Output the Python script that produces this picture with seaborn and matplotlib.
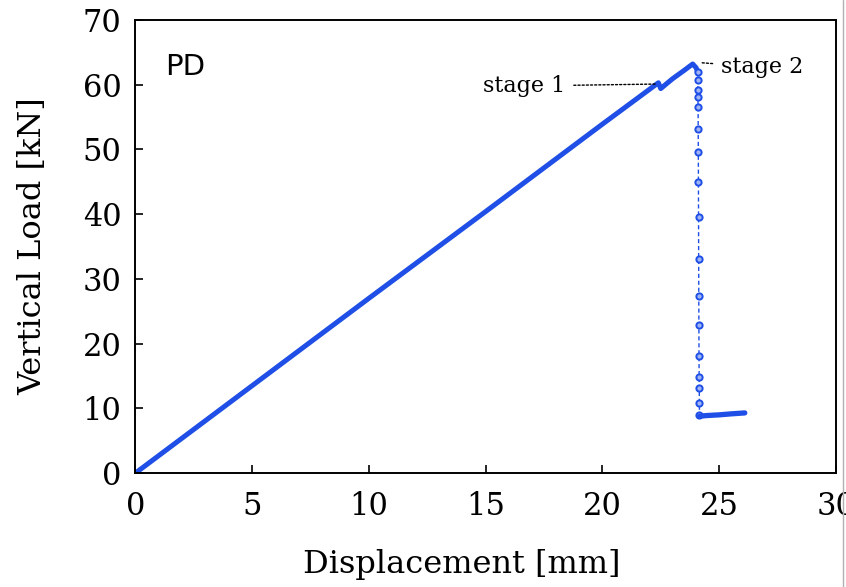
import matplotlib
matplotlib.use("Agg")
import matplotlib.pyplot as plt
from matplotlib.lines import Line2D
import seaborn as sns
import pandas as pd

# loading branch (dense, elastic) + stage 1 notch + stage 2 peak
load_disp = [0.0, 5.0, 10.0, 15.0, 20.0, 22.40, 22.50, 23.00, 23.50, 23.87, 24.02, 24.08]
load_val = [0.0, 13.5, 27.0, 40.4, 53.9, 60.3, 59.4, 60.9, 62.2, 63.2, 62.6, 61.9]

# sudden drop (sparse points, dashed)
drop_disp = [24.080, 24.085, 24.090, 24.095, 24.100, 24.105, 24.110, 24.115, 24.120,
             24.125, 24.130, 24.135, 24.140, 24.145, 24.150, 24.155, 24.160]
drop_val = [61.9, 60.7, 59.2, 58.1, 56.5, 53.1, 49.6, 44.9, 39.5, 33.0, 27.4, 22.9,
            18.1, 14.9, 13.2, 10.8, 9.0]

# residual branch
res_disp = [24.16, 24.5, 25.0, 25.5, 26.1]
res_val = [8.8, 8.9, 9.0, 9.15, 9.3]

blue = "#1f4fe6"

sns.set_theme(style="white")
plt.rcParams["font.family"] = ["DejaVu Serif"]

fig = plt.figure(figsize=(8.46, 5.87), dpi=100)
ax = fig.add_axes([0.160, 0.194, 0.828, 0.772])

df_load = pd.DataFrame({"d": load_disp, "f": load_val})
df_drop = pd.DataFrame({"d": drop_disp, "f": drop_val})
df_res = pd.DataFrame({"d": res_disp, "f": res_val})

sns.lineplot(data=df_load, x="d", y="f", ax=ax, color=blue, lw=3.6, sort=False,
             estimator=None)
sns.lineplot(data=df_drop, x="d", y="f", ax=ax, color=blue, lw=1.0, ls=(0, (3, 2)),
             marker="o", markersize=4.5, markerfacecolor="#9fb4f5", markeredgecolor=blue,
             markeredgewidth=1.4, sort=False, estimator=None)
sns.lineplot(data=df_res, x="d", y="f", ax=ax, color=blue, lw=3.8, sort=False,
             estimator=None)

ax.set_xlim(0, 30)
ax.set_ylim(0, 70)
ax.set_xticks([0, 5, 10, 15, 20, 25, 30])
ax.set_yticks([0, 10, 20, 30, 40, 50, 60, 70])
ax.tick_params(direction="in", length=6, width=1.2, labelsize=22,
               bottom=True, left=True, top=False, right=False, colors="black")
ax.tick_params(axis="x", pad=13)
ax.tick_params(axis="y", pad=10)
for s in ax.spines.values():
    s.set_color("black")
    s.set_linewidth(1.4)

ax.set_xlabel("Displacement [mm]", fontsize=23, color="black")
ax.set_ylabel("Vertical Load [kN]", fontsize=23, color="black")
ax.xaxis.set_label_coords(0.466, -0.168)
ax.yaxis.set_label_coords(-0.124, 0.5)

ax.text(0.043, 0.896, "PD", transform=ax.transAxes, fontsize=21,
        family=["DejaVu Sans"], va="center", ha="left", color="black")

ax.annotate("stage 1", xy=(22.3, 60.1), xytext=(18.4, 59.8), fontsize=16,
            ha="right", va="center", color="black",
            arrowprops=dict(arrowstyle="-", ls=(0, (1.5, 1.5)), lw=1.0, color="black",
                            shrinkA=4, shrinkB=0))
ax.annotate("stage 2", xy=(24.2, 63.4), xytext=(25.1, 62.7), fontsize=16,
            ha="left", va="center", color="black",
            arrowprops=dict(arrowstyle="-", ls=(0, (1.5, 1.5)), lw=1.0, color="black",
                            shrinkA=4, shrinkB=0))

fig.add_artist(Line2D([843 / 846, 843 / 846], [0, 1], transform=fig.transFigure,
                      color="#b0b0b0", lw=1.0))

fig.savefig("out.png", dpi=100)
